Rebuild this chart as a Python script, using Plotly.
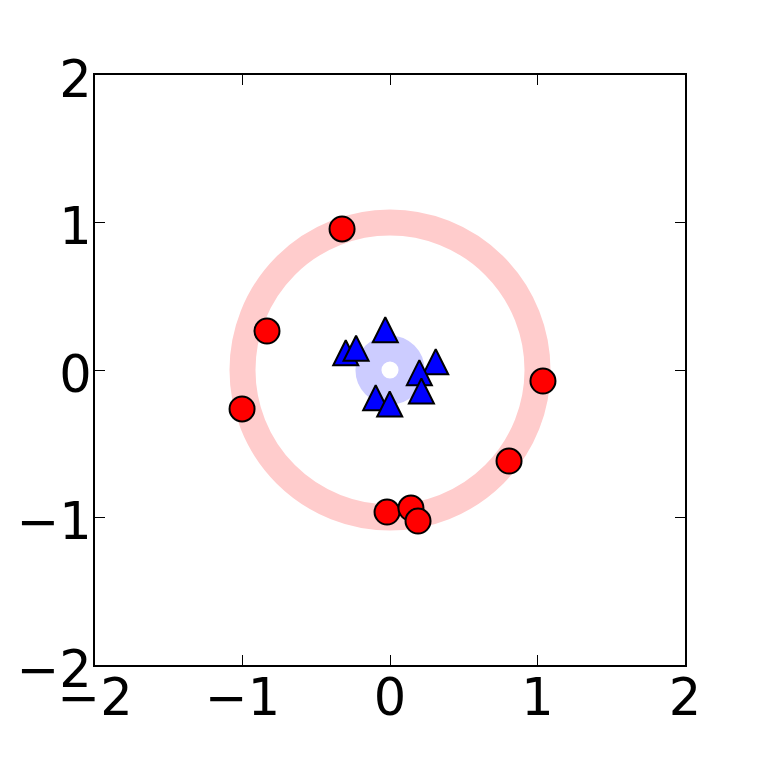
import plotly.graph_objects as go

# Outer class (red circles)
outer_x = [-0.325, -0.834, -1.003, 1.037, 0.807, -0.020, 0.142, 0.190]
outer_y = [0.956, 0.264, -0.264, -0.075, -0.617, -0.963, -0.936, -1.024]

# Inner class (blue triangles)
inner_x = [-0.032, -0.300, -0.230, 0.310, 0.199, 0.213, -0.097, -0.002]
inner_y = [0.273, 0.117, 0.147, 0.056, -0.018, -0.142, -0.188, -0.231]

# Background rings (radius in data units)
outer_ring_r = 1.0
inner_ring_r = 0.146

tick_vals = [-2, -1, 0, 1, 2]
axis_range = [-2, 2]

fig = go.Figure()

fig.add_trace(go.Scatter(
    x=outer_x, y=outer_y, mode="markers",
    marker=dict(symbol="circle", size=25, color="#FF0000",
                line=dict(color="black", width=2)),
    showlegend=False, hoverinfo="skip"))

fig.add_trace(go.Scatter(
    x=inner_x, y=inner_y, mode="markers",
    marker=dict(symbol="arrow-down", size=25, angle=180, standoff=12.5,
                color="#0000FF", line=dict(color="black", width=2)),
    showlegend=False, hoverinfo="skip"))

fig.add_shape(type="circle", xref="x", yref="y",
              x0=-outer_ring_r, y0=-outer_ring_r, x1=outer_ring_r, y1=outer_ring_r,
              line=dict(color="#FFCCCC", width=26), layer="below")
fig.add_shape(type="circle", xref="x", yref="y",
              x0=-inner_ring_r, y0=-inner_ring_r, x1=inner_ring_r, y1=inner_ring_r,
              line=dict(color="#CCCCFF", width=26), layer="below")

axis_common = dict(
    range=axis_range, tickvals=tick_vals, ticks="inside", ticklen=10,
    tickwidth=1, tickcolor="black", showline=True, linecolor="black",
    linewidth=2, mirror="allticks", showgrid=False, zeroline=False,
    automargin=False,
    tickfont=dict(family="DejaVu Sans", size=51, color="black"),
)

fig.update_xaxes(ticklabelstandoff=-13, **axis_common)
fig.update_yaxes(ticklabelstandoff=-9, ticklabelshift=4, **axis_common)

fig.update_layout(
    width=761, height=761,
    margin=dict(l=87, r=84, t=67, b=104),
    paper_bgcolor="white", plot_bgcolor="white",
)

fig.write_html("out.html")
